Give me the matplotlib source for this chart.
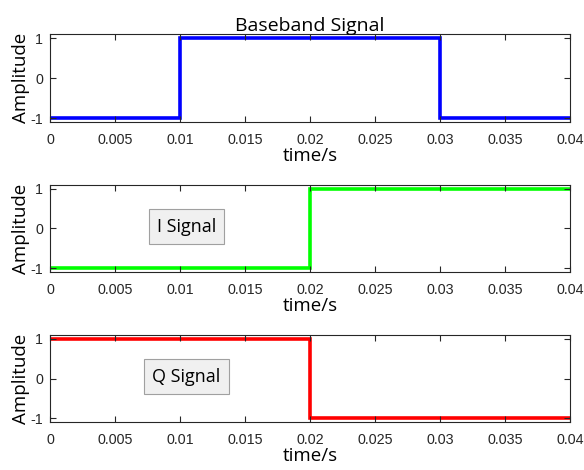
import matplotlib
matplotlib.use("Agg")
import matplotlib.pyplot as plt
import numpy as np

# data
t_edges = [0, 0.01, 0.02, 0.03, 0.04]
baseband = [-1, 1, 1, -1]
i_sig = [-1, -1, 1, 1]
q_sig = [1, 1, -1, -1]
xticks = [0, 0.005, 0.01, 0.015, 0.02, 0.025, 0.03, 0.035, 0.04]
xticklabels = ["0", "0.005", "0.01", "0.015", "0.02", "0.025", "0.03", "0.035", "0.04"]
yticks = [-1, 0, 1]
yticklabels = ["-1", "0", "1"]

label_font = "Open Sans"
tick_font = "Liberation Sans"
axcol = (0.15, 0.15, 0.15)

fig = plt.figure(figsize=(5.84, 4.70), dpi=100)
positions = [
    [0.0856, 0.7404, 0.8904, 0.1872],
    [0.0856, 0.4213, 0.8904, 0.1851],
    [0.0856, 0.1021, 0.8904, 0.1851],
]
series = [baseband, i_sig, q_sig]
colors = ["#0000ff", "#00ff00", "#ff0000"]
boxes = [None, "I Signal", "Q Signal"]

for pos, vals, c, box in zip(positions, series, colors, boxes):
    ax = fig.add_axes(pos)
    ax.stairs(vals, t_edges, color=c, linewidth=2.6, baseline=None)
    ax.set_xlim(0, 0.04)
    ax.set_ylim(-1.1, 1.1)
    ax.set_xticks(xticks)
    ax.set_xticklabels(xticklabels, fontfamily=tick_font, fontsize=10.3)
    ax.set_yticks(yticks)
    ax.set_yticklabels(yticklabels, fontfamily=tick_font, fontsize=10.3)
    ax.tick_params(direction="in", length=4, width=0.8, top=True, right=True,
                   colors=axcol, labelcolor=axcol, pad=5)
    ax.tick_params(axis="x", pad=8)
    for s in ax.spines.values():
        s.set_color(axcol)
        s.set_linewidth(0.8)
    ax.set_xlabel("time/s", fontfamily=label_font, fontsize=13.5, labelpad=0)
    ax.set_ylabel("Amplitude", fontfamily=label_font, fontsize=13.5, labelpad=0)
    if box:
        ax.text(0.0105, 0.05, box, ha="center", va="center", fontfamily=label_font,
                fontsize=13, color="black",
                bbox=dict(boxstyle="square,pad=0.45", facecolor="#f0f0f0",
                          edgecolor="#a0a0a0", linewidth=0.8))
    if box is None:
        ax.set_title("Baseband Signal", fontfamily=label_font, fontsize=14, pad=2)

fig.savefig("out.png", dpi=100)
